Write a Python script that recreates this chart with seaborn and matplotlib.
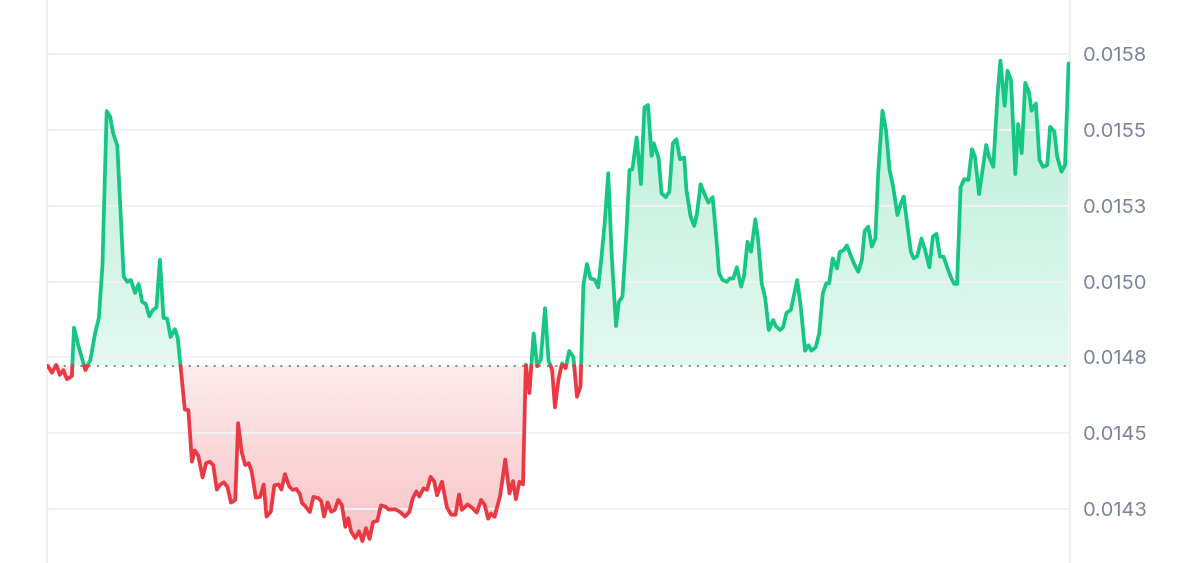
import matplotlib
matplotlib.use("Agg")
import matplotlib.pyplot as plt
import numpy as np
import pandas as pd
import seaborn as sns
from matplotlib.colors import to_rgb
from matplotlib.path import Path

# price over one day, minutes since start of window
MINUTES = [
    1, 7, 13, 18, 23, 28, 35, 38, 44, 54, 61, 68, 73, 78, 84, 89, 93, 99,
    108, 113, 118, 124, 129, 134, 139, 144, 149, 154, 159, 164, 169, 174, 180, 184,
    194, 199, 204, 208, 213, 219, 224, 229, 234, 239, 244, 249, 254, 259, 265, 269,
    274, 279, 284, 288, 294, 300, 305, 309, 315, 320, 326, 330, 335, 341, 346, 351,
    356, 359, 363, 370, 375, 382, 386, 390, 395, 400, 405, 410, 415, 420, 424, 428,
    434, 439, 444, 449, 454, 459, 465, 470, 476, 481, 490, 496, 504, 510, 515, 520,
    524, 530, 535, 540, 545, 549, 556, 563, 569, 575, 580, 584, 592, 599, 605, 611,
    616, 621, 625, 630, 638, 645, 651, 656, 660, 665, 670, 674, 679, 685, 690, 695,
    701, 706, 711, 715, 720, 725, 730, 735, 741, 746, 751, 755, 760, 765, 771, 776,
    781, 785, 790, 795, 801, 805, 810, 815, 820, 824, 830, 836, 841, 846, 851, 854,
    861, 865, 871, 876, 881, 886, 891, 897, 900, 906, 911, 915, 920, 925, 931, 937,
    942, 946, 951, 957, 961, 966, 971, 977, 981, 986, 991, 997, 1001, 1006, 1011, 1016,
    1022, 1026, 1032, 1036, 1041, 1047, 1052, 1056, 1061, 1067, 1072, 1076, 1082, 1087,
    1092, 1097, 1101, 1106, 1112, 1116, 1121, 1126, 1131, 1137, 1142, 1147, 1151, 1156,
    1161, 1166, 1170, 1176, 1181, 1186, 1191, 1197, 1202, 1206, 1211, 1216, 1220, 1225,
    1231, 1236, 1242, 1247, 1252, 1257, 1262, 1266, 1272, 1277, 1281, 1286, 1291, 1297,
    1302, 1306, 1312, 1318, 1322, 1326, 1332, 1338, 1342, 1348, 1352, 1357, 1363, 1367,
    1372, 1377, 1382, 1386, 1392, 1397, 1402, 1408, 1412, 1418, 1422, 1428, 1433, 1438,
]

PRICES = [
    0.014722, 0.014699, 0.014726, 0.014692, 0.014708, 0.014678, 0.014688, 0.014848,
    0.014790, 0.014708, 0.014741, 0.014833, 0.014880, 0.015051, 0.015562, 0.015543,
    0.015490, 0.015447, 0.015016, 0.014999, 0.015005, 0.014962, 0.014992, 0.014933,
    0.014926, 0.014885, 0.014906, 0.014914, 0.015072, 0.014880, 0.014878, 0.014817,
    0.014843, 0.014815, 0.014578, 0.014576, 0.014406, 0.014443, 0.014426, 0.014354,
    0.014401, 0.014406, 0.014395, 0.014314, 0.014331, 0.014338, 0.014323, 0.014271,
    0.014280, 0.014533, 0.014438, 0.014395, 0.014401, 0.014375, 0.014287, 0.014290,
    0.014331, 0.014225, 0.014241, 0.014328, 0.014331, 0.014314, 0.014365, 0.014324,
    0.014313, 0.014316, 0.014299, 0.014269, 0.014261, 0.014240, 0.014290, 0.014286,
    0.014276, 0.014225, 0.014272, 0.014241, 0.014247, 0.014280, 0.014263, 0.014191,
    0.014220, 0.014176, 0.014154, 0.014177, 0.014144, 0.014187, 0.014151, 0.014207,
    0.014211, 0.014262, 0.014258, 0.014248, 0.014249, 0.014242, 0.014225, 0.014240,
    0.014286, 0.014308, 0.014291, 0.014318, 0.014313, 0.014356, 0.014341, 0.014295,
    0.014340, 0.014255, 0.014231, 0.014231, 0.014298, 0.014247, 0.014265, 0.014253,
    0.014238, 0.014280, 0.014264, 0.014218, 0.014235, 0.014224, 0.014295, 0.014413,
    0.014301, 0.014342, 0.014282, 0.014340, 0.014331, 0.014726, 0.014632, 0.014829,
    0.014721, 0.014743, 0.014912, 0.014739, 0.014708, 0.014585, 0.014677, 0.014730,
    0.014714, 0.014771, 0.014751, 0.014620, 0.014655, 0.014987, 0.015058, 0.015010,
    0.015006, 0.014981, 0.015093, 0.015192, 0.015357, 0.015082, 0.014853, 0.014933,
    0.014950, 0.015137, 0.015368, 0.015370, 0.015475, 0.015321, 0.015574, 0.015582,
    0.015414, 0.015456, 0.015406, 0.015291, 0.015278, 0.015296, 0.015456, 0.015469,
    0.015403, 0.015409, 0.015302, 0.015214, 0.015183, 0.015225, 0.015321, 0.015291,
    0.015260, 0.015278, 0.015148, 0.015027, 0.015005, 0.014999, 0.015010, 0.015010,
    0.015047, 0.014983, 0.015016, 0.015131, 0.015098, 0.015205, 0.015137, 0.014994,
    0.014945, 0.014840, 0.014873, 0.014853, 0.014840, 0.014849, 0.014897, 0.014906,
    0.014961, 0.015005, 0.014917, 0.014772, 0.014790, 0.014772, 0.014783, 0.014829,
    0.014961, 0.014994, 0.014994, 0.015076, 0.015043, 0.015098, 0.015102, 0.015119,
    0.015087, 0.015054, 0.015032, 0.015071, 0.015167, 0.015181, 0.015115, 0.015142,
    0.015357, 0.015563, 0.015499, 0.015368, 0.015313, 0.015219, 0.015258, 0.015280,
    0.015186, 0.015098, 0.015076, 0.015084, 0.015142, 0.015104, 0.015047, 0.015148,
    0.015157, 0.015082, 0.015082, 0.015054, 0.015016, 0.014992, 0.014992, 0.015310,
    0.015337, 0.015335, 0.015436, 0.015414, 0.015288, 0.015384, 0.015450, 0.015411,
    0.015378, 0.015615, 0.015728, 0.015579, 0.015695, 0.015664, 0.015354, 0.015519,
    0.015423, 0.015655, 0.015626, 0.015563, 0.015587, 0.015401, 0.015378, 0.015384,
    0.015510, 0.015494, 0.015411, 0.015362, 0.015384, 0.015719,
]

TICK_VALUES = [0.01425, 0.0145, 0.01475, 0.0150, 0.01525, 0.0155, 0.01575]
TICK_LABELS = ["0.0143", "0.0145", "0.0148", "0.0150", "0.0153", "0.0155", "0.0158"]

GREEN = "#16c784"
RED = "#ea3943"
Y_RANGE = (0.014072, 0.015928)
X_RANGE = (0, 1440)


def split_by_baseline(t, p, base):
    """Cut the series where it crosses the opening price, one segment per side."""
    rows = []
    seg = 0
    side = "up" if p[0] >= base else "down"
    rows.append((t[0], p[0], side, seg))
    for i in range(1, len(p)):
        new_side = "up" if p[i] >= base else "down"
        if new_side != side:
            frac = (base - p[i - 1]) / (p[i] - p[i - 1])
            tc = t[i - 1] + frac * (t[i] - t[i - 1])
            rows.append((tc, base, side, seg))
            seg += 1
            side = new_side
            rows.append((tc, base, side, seg))
        rows.append((t[i], p[i], side, seg))
    return pd.DataFrame(rows, columns=["minute", "price", "side", "seg"])


def gradient_fill(ax, t, p, base, above, color, a_base, a_far):
    t = np.asarray(t, dtype=float)
    p = np.asarray(p, dtype=float)
    where = p >= base if above else p <= base
    coll = ax.fill_between(t, p, base, where=where, interpolate=True,
                           facecolor="none", edgecolor="none")
    path = Path.make_compound_path(*coll.get_paths())
    far = p.max() if above else p.min()
    lo, hi = (base, far) if above else (far, base)
    n = 256
    alpha = np.linspace(a_base, a_far, n) if above else np.linspace(a_far, a_base, n)
    img = np.zeros((n, 1, 4))
    img[:, 0, :3] = to_rgb(color)
    img[:, 0, 3] = alpha
    im = ax.imshow(img, extent=[t.min(), t.max(), lo, hi], origin="lower",
                   aspect="auto", interpolation="bilinear", zorder=0)
    im.set_clip_path(path, transform=ax.transData)


def main():
    sns.set_theme(style="white")
    plt.rcParams["font.family"] = ["Inter", "DejaVu Sans"]

    base = PRICES[0]
    df = split_by_baseline(MINUTES, PRICES, base)

    fig = plt.figure(figsize=(12, 5.63), dpi=100)
    ax = fig.add_axes([47 / 1200, 0, 1023 / 1200, 1])

    gradient_fill(ax, MINUTES, PRICES, base, True, GREEN, 0.12, 0.30)
    gradient_fill(ax, MINUTES, PRICES, base, False, RED, 0.10, 0.30)

    ax.axhline(base, color="#8c8f96", linestyle=(0, (1, 3)), linewidth=1.5, zorder=1)

    sns.lineplot(data=df, x="minute", y="price", hue="side", units="seg",
                 estimator=None, sort=False, palette={"up": GREEN, "down": RED},
                 linewidth=2.7, legend=False, ax=ax, zorder=3)

    ax.set_xlim(*X_RANGE)
    ax.set_ylim(*Y_RANGE)
    ax.set_yticks(TICK_VALUES)
    ax.set_yticklabels(TICK_LABELS)
    ax.yaxis.tick_right()
    ax.set_xticks([])
    ax.set_xlabel("")
    ax.set_ylabel("")
    ax.tick_params(axis="y", length=0, pad=9, labelsize=14.5, labelcolor="#7a8498")
    ax.set_axisbelow(True)
    ax.grid(axis="y", color="#eff1f3", linewidth=1.5)

    for side in ["top", "bottom"]:
        ax.spines[side].set_visible(False)
    for side in ["left", "right"]:
        ax.spines[side].set_color("#eceef1")
        ax.spines[side].set_linewidth(1.5)

    fig.savefig("out.png", dpi=100, facecolor="white")
    plt.close(fig)


if __name__ == "__main__":
    main()
